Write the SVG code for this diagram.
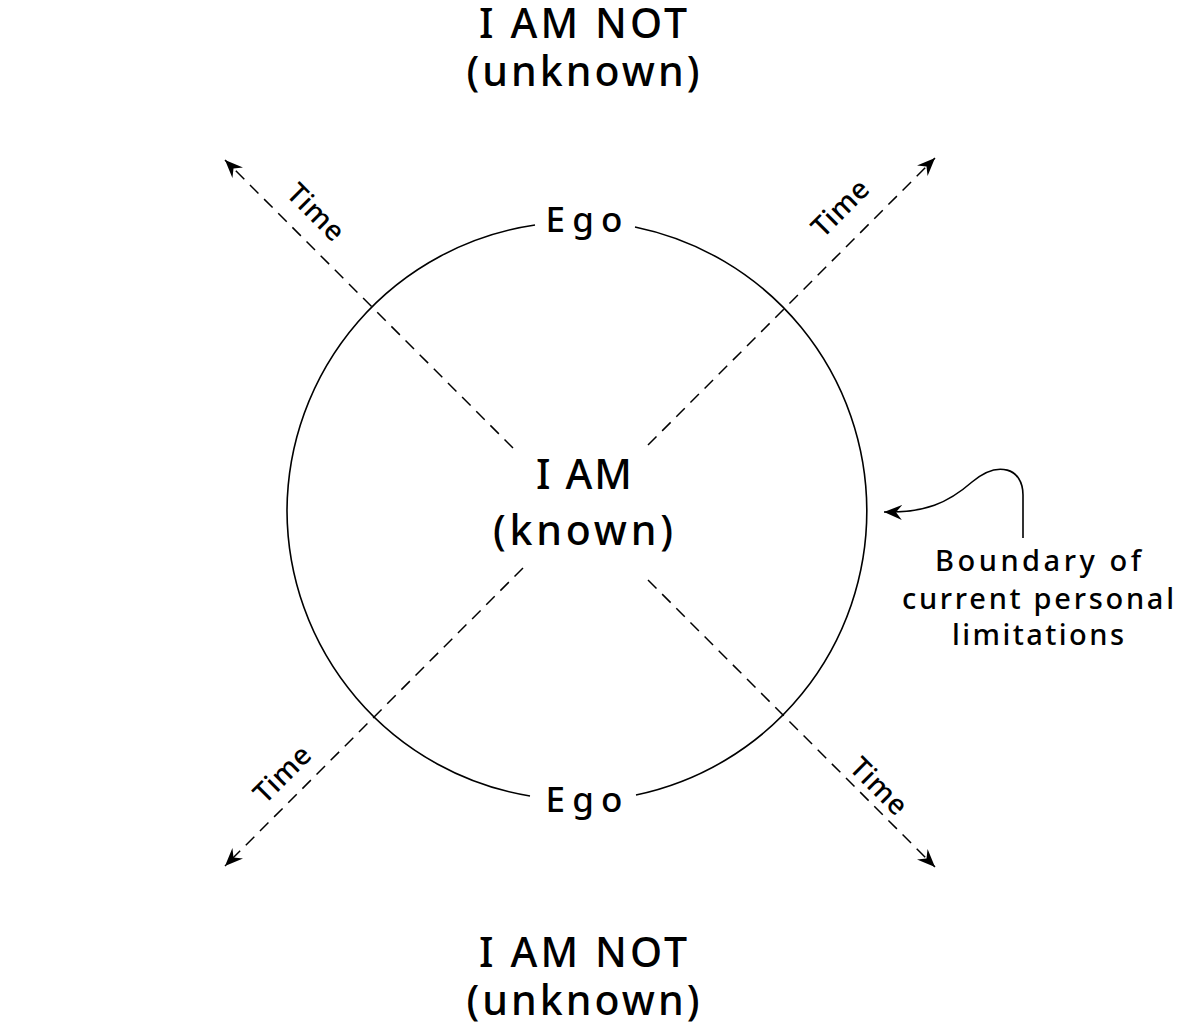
<svg xmlns="http://www.w3.org/2000/svg" width="1182" height="1032" viewBox="0 0 1182 1032">
<defs>
<marker id="ah" viewBox="-18 -8 20 16" markerWidth="20" markerHeight="16" refX="0" refY="0" orient="auto" markerUnits="userSpaceOnUse">
<path d="M0,0 L-18,-7.5 L-12,0 L-18,7.5 Z" fill="#000"/>
</marker>
<style>
text{font-family:"Noto Sans","Liberation Sans",sans-serif;font-weight:500;fill:#000;text-anchor:middle}
.big{font-size:41px}
.ego{font-size:35px}
.time{font-size:28px}
.lbl{font-size:29px}
.dash{stroke:#000;stroke-width:1.5;fill:none;stroke-dasharray:12 8}
.solid{stroke:#000;stroke-width:1.6;fill:none}
</style>
</defs>
<rect width="1182" height="1032" fill="#fff"/>
<g id="top-title"><text class="big" x="583" y="38" textLength="208" lengthAdjust="spacing">I AM NOT</text><text class="big" x="583" y="86" textLength="233" lengthAdjust="spacing">(unknown)</text></g>
<g id="bottom-title"><text class="big" x="583" y="967" textLength="208" lengthAdjust="spacing">I AM NOT</text><text class="big" x="583" y="1015" textLength="233" lengthAdjust="spacing">(unknown)</text></g>
<g id="circle-boundary">
<path class="solid" d="M635,227 A290,290 0 0 1 636,795"/>
<path class="solid" d="M535,225 A290,290 0 0 0 287,511 A290,290 0 0 0 530,796"/>
</g>
<g id="center"><text class="big" x="584" y="489" textLength="96" lengthAdjust="spacing">I AM</text><text class="big" x="583" y="545" textLength="180" lengthAdjust="spacing">(known)</text></g>
<g id="ego-top"><text class="ego" x="584" y="232" textLength="77" lengthAdjust="spacing">Ego</text></g>
<g id="ego-bottom"><text class="ego" x="584" y="812" textLength="77" lengthAdjust="spacing">Ego</text></g>
<g id="connectors">
<line class="dash" x1="513" y1="448" x2="225" y2="160" marker-end="url(#ah)"/>
<line class="dash" x1="648" y1="445" x2="935" y2="158" marker-end="url(#ah)"/>
<line class="dash" x1="523" y1="568" x2="225" y2="866" marker-end="url(#ah)"/>
<line class="dash" x1="648" y1="580" x2="935" y2="867" marker-end="url(#ah)"/>
<path class="solid" d="M1023,538 L1023,495 C1023,468 998,460 972,482 C948,503 925,513 884,512" marker-end="url(#ah)"/>
</g>
<g id="time-labels">
<text class="time" transform="translate(309,219) rotate(45)" textLength="68" lengthAdjust="spacing">Time</text>
<text class="time" transform="translate(847,215) rotate(-45)" textLength="68" lengthAdjust="spacing">Time</text>
<text class="time" transform="translate(289,781) rotate(-45)" textLength="68" lengthAdjust="spacing">Time</text>
<text class="time" transform="translate(872,793) rotate(45)" textLength="68" lengthAdjust="spacing">Time</text>
</g>
<g id="boundary-label">
<text class="lbl" x="1038" y="571" textLength="206" lengthAdjust="spacing">Boundary of</text>
<text class="lbl" x="1038" y="609" textLength="272" lengthAdjust="spacing">current personal</text>
<text class="lbl" x="1038" y="645" textLength="172" lengthAdjust="spacing">limitations</text>
</g>
</svg>
